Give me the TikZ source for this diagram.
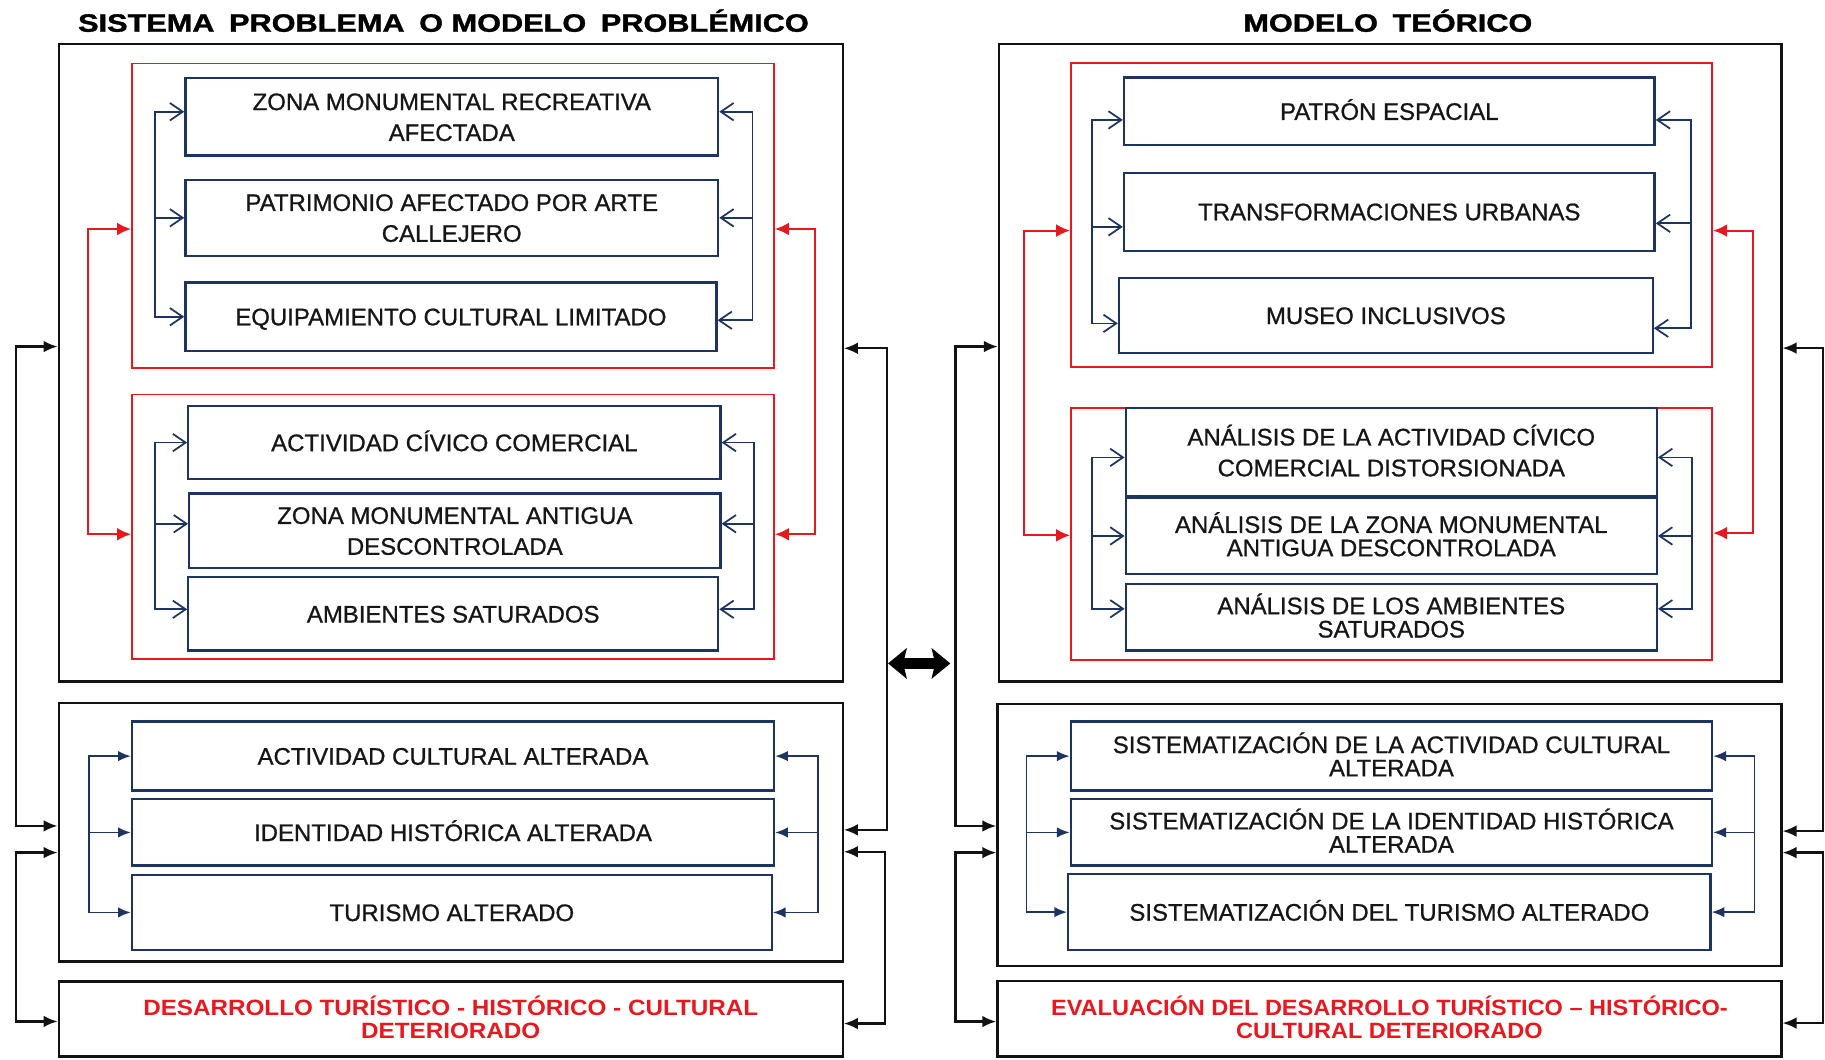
\documentclass[tikz,border=0pt]{standalone}
\usepackage{fontspec}
\setmainfont{Liberation Sans}
\newfontfamily\boxfont{Liberation Sans}[FakeBold=0.8]
\newfontfamily\headfont{Liberation Sans Bold}[FakeBold=1.2]
\usepackage{graphicx}
\usetikzlibrary{arrows.meta}
\definecolor{navyc}{RGB}{30,52,96}
\definecolor{redc}{RGB}{232,24,30}
\definecolor{txtc}{RGB}{22,22,22}
\definecolor{blk}{RGB}{18,18,18}
\newcommand\capln[1]{\raisebox{0pt}[14.75pt][0pt]{#1}}
\newcommand\redln[2]{\raisebox{0pt}[13.6pt][0pt]{\scalebox{#1}[1]{#2}}}
\newcommand\mkbox[7]{%
  \pgfmathsetmacro\bxcx{(#3+#5)/2}%
  \pgfmathsetmacro\bxcy{(#4+#6)/2}%
  \pgfmathsetmacro\bxw{#5-#3}%
  \pgfmathsetmacro\bxh{#6-#4}%
  \node[#1, minimum width=\bxw pt, minimum height=\bxh pt] (#2) at (\bxcx,\bxcy) {#7};}
\newcommand\mybrk[5]{%
  \draw[#1] (#2 |- #5) |- (#3);
  \draw[#1] (#2 |- #4) -- (#4);
  \draw[#1] (#2 |- #5) -- (#5);}
\newcommand\mytwo[4]{%
  \draw[#1] (#2 |- #4) |- (#3);
  \draw[#1] (#2 |- #4) -- (#4);}
\tikzset{
  outerbox/.style={draw=blk, line width=2pt, inner sep=0pt},
  redbox/.style={draw=redc, line width=1.6pt, inner sep=0pt},
  navbox/.style={draw=navyc, line width=2pt, inner sep=0pt, align=center, text=txtc,
     font=\boxfont\fontsize{20.6}{26.5}\selectfont},
  tight/.style={font=\boxfont\fontsize{20.6}{20}\selectfont},
  redtextbox/.style={draw=blk, line width=2pt, inner sep=0pt, align=center, text=redc,
     font=\bfseries\fontsize{19}{19.5}\selectfont},
  titletext/.style={font=\headfont\fontsize{21.6}{24}\selectfont, text=black, inner sep=0pt},
  navspine/.style={draw=navyc, line width=1.5pt, line cap=rect},
  navopen/.style={navspine, -{Straight Barb[length=11pt,width=15pt]}},
  navfill/.style={navspine, -{Latex[length=11pt,width=9pt]}},
  redarr/.style={draw=redc, line width=1.8pt, line cap=rect, -{Latex[length=12pt,width=11pt]}},
  blkarr/.style={draw=blk, line width=2pt, line cap=rect, -{Latex[length=12pt,width=10pt]}},
  bigdbl/.style={draw=black, line width=9pt,
     {Stealth[length=16pt,width=26pt,inset=3pt]}-{Stealth[length=16pt,width=26pt,inset=3pt]}}
}
\begin{document}
\begin{tikzpicture}[x=1pt,y=-1pt]
\useasboundingbox (0,0) rectangle (1568,910);
\fill[white] (0,0) rectangle (1568,910);

% ---------------- titles
\node[titletext] (tl) at (381,19.5) {\scalebox{1.22}[1]{\raisebox{0pt}[15.5pt][0pt]{SISTEMA\hspace{4.3pt} PROBLEMA\hspace{4.3pt} O MODELO\hspace{4.3pt} PROBLÉMICO}}};
\node[titletext] (tr) at (1192.4,19.5) {\scalebox{1.22}[1]{\raisebox{0pt}[15.5pt][0pt]{MODELO\hspace{4.3pt} TEÓRICO}}};

% ---------------- LEFT PANEL
\mkbox{outerbox}{O1}{50.5}{38}{724}{585.5}{}
\mkbox{redbox}{R1}{113.4}{54.5}{665}{316}{}
\mkbox{navbox}{b11}{159.3}{67.3}{617}{133.7}{\capln{ZONA MONUMENTAL RECREATIVA}\\\capln{AFECTADA}}
\mkbox{navbox}{b12}{159.3}{154.6}{617}{219.7}{\capln{PATRIMONIO AFECTADO POR ARTE}\\\capln{CALLEJERO}}
\mkbox{navbox}{b13}{159.3}{242.8}{615.5}{301.5}{\capln{EQUIPAMIENTO CULTURAL LIMITADO}}

\mkbox{redbox}{R2}{113.4}{339}{665}{566}{}
\mkbox{navbox}{b21}{161.8}{349}{619}{411.5}{\capln{ACTIVIDAD CÍVICO COMERCIAL}}
\mkbox{navbox}{b22}{162.6}{424}{619}{488}{\capln{ZONA MONUMENTAL ANTIGUA}\\\capln{DESCONTROLADA}}
\mkbox{navbox}{b23}{161.8}{496}{617}{559}{\capln{AMBIENTES SATURADOS}}

\mkbox{outerbox}{O2}{50.5}{604.2}{724}{826.2}{}
\mkbox{navbox}{b31}{113.4}{620}{665}{679.3}{\capln{ACTIVIDAD CULTURAL ALTERADA}}
\mkbox{navbox}{b32}{113.4}{686.7}{665}{743.7}{\capln{IDENTIDAD HISTÓRICA ALTERADA}}
\mkbox{navbox}{b33}{113.4}{751.7}{663}{816.2}{\capln{TURISMO ALTERADO}}

\mkbox{redtextbox}{O3}{50.5}{843.4}{724}{907.8}{\redln{1.096}{DESARROLLO TURÍSTICO - HISTÓRICO - CULTURAL}\\\redln{1.096}{DETERIORADO}}

% ---------------- RIGHT PANEL
\mkbox{outerbox}{P1}{858.3}{38}{1530.5}{585.5}{}
\mkbox{redbox}{Q1}{920.2}{54}{1471}{315}{}
\mkbox{navbox}{bP}{965.7}{66.7}{1421.6}{124.6}{\capln{PATRÓN ESPACIAL}}
\mkbox{navbox}{bT}{965.7}{148.4}{1421.6}{215.4}{\capln{TRANSFORMACIONES URBANAS}}
\mkbox{navbox}{bM}{961.4}{238.6}{1420}{303.5}{\capln{MUSEO INCLUSIVOS}}

\mkbox{redbox}{Q2}{920.2}{350.5}{1471}{567}{}
\mkbox{navbox}{bA1}{967.2}{350.5}{1423.5}{426.7}{\capln{ANÁLISIS DE LA ACTIVIDAD CÍVICO}\\\capln{COMERCIAL DISTORSIONADA}}
\mkbox{navbox,tight}{bA2}{967.2}{428}{1423.5}{493}{\capln{ANÁLISIS DE LA ZONA MONUMENTAL}\\\capln{ANTIGUA DESCONTROLADA}}
\mkbox{navbox,tight}{bA3}{967.2}{501.7}{1423.5}{559}{\capln{ANÁLISIS DE LOS AMBIENTES}\\\capln{SATURADOS}}

\mkbox{outerbox}{P2}{857}{604.8}{1530.5}{829.9}{}
\mkbox{navbox,tight}{bS1}{920}{620}{1471}{679.3}{\capln{SISTEMATIZACIÓN DE LA ACTIVIDAD CULTURAL}\\\capln{ALTERADA}}
\mkbox{navbox,tight}{bS2}{920}{686.7}{1471}{743.7}{\capln{SISTEMATIZACIÓN DE LA IDENTIDAD HISTÓRICA}\\\capln{ALTERADA}}
\mkbox{navbox}{bS3}{917.8}{751.1}{1469.6}{816.2}{\capln{SISTEMATIZACIÓN DEL TURISMO ALTERADO}}

\mkbox{redtextbox}{P3}{857}{842.8}{1530.5}{907.8}{\redln{1.064}{EVALUACIÓN DEL DESARROLLO TURÍSTICO – HISTÓRICO-}\\\redln{1.064}{CULTURAL DETERIORADO}}

% ---------------- spine coordinates
\coordinate (sA) at (133,0);
\coordinate (sB) at (646.5,0);
\coordinate (sC) at (133,0);
\coordinate (sD) at (647.5,0);
\coordinate (sE) at (76.4,0);
\coordinate (sF) at (702.8,0);
\coordinate (rsL) at (75.4,0);
\coordinate (rsR) at (700,0);
\coordinate (kL) at (14,0);
\coordinate (kRa) at (762,0);
\coordinate (kRb) at (760.3,0);

\coordinate (tA) at (938.4,0);
\coordinate (tB) at (1452.8,0);
\coordinate (tC) at (938.4,0);
\coordinate (tD) at (1453.8,0);
\coordinate (tE) at (881.9,0);
\coordinate (tF) at (1507.5,0);
\coordinate (qsL) at (879.7,0);
\coordinate (qsR) at (1506.5,0);
\coordinate (mL) at (821,0);
\coordinate (mR) at (1566,0);

% ---------------- shifted targets, left panel
\coordinate (t11L) at ([yshift=4.5pt]b11.west);
\coordinate (t11R) at ([yshift=4.5pt]b11.east);
\coordinate (t13R) at ([yshift=-3pt]b13.east);
\coordinate (t22L) at ([yshift=6pt]b22.west);
\coordinate (t22R) at ([yshift=6pt]b22.east);
\coordinate (t23L) at ([yshift=4pt]b23.west);
\coordinate (t23R) at ([yshift=4pt]b23.east);
\coordinate (rt1L) at ([yshift=-11.5pt]R1.west);
\coordinate (rt2L) at ([yshift=-6.5pt]R2.west);
\coordinate (rt1R) at ([yshift=-11.5pt]R1.east);
\coordinate (rt2R) at ([yshift=-6.5pt]R2.east);
\coordinate (k1L) at ([yshift=14pt]O1.west);
\coordinate (k2La) at ([yshift=5.6pt]O2.west);
\coordinate (k2Lb) at ([yshift=-17.3pt]O2.west);
\coordinate (k3L) at ([yshift=-2pt]O3.west);
\coordinate (k1R) at ([yshift=12.5pt]O1.east);
\coordinate (k2Ra) at ([yshift=2.2pt]O2.east);
\coordinate (k2Rb) at ([yshift=-16.6pt]O2.east);
\coordinate (k3R) at ([yshift=-3.8pt]O3.east);

% ---------------- shifted targets, right panel
\coordinate (uPL) at ([yshift=-7.4pt]bP.west);
\coordinate (uTL) at ([yshift=-13pt]bT.west);
\coordinate (uML) at ([yshift=-6.8pt]bM.west);
\coordinate (uPR) at ([yshift=-7.4pt]bP.east);
\coordinate (uTR) at ([yshift=-10pt]bT.east);
\coordinate (uMR) at ([yshift=-11pt]bM.east);
\coordinate (uA1L) at ([yshift=-4.4pt]bA1.west);
\coordinate (uA3L) at ([yshift=7.3pt]bA3.west);
\coordinate (uA1R) at ([yshift=-4.4pt]bA1.east);
\coordinate (uA3R) at ([yshift=7.3pt]bA3.east);
\coordinate (q1L) at ([yshift=-13.6pt]Q1.west);
\coordinate (q2L) at ([yshift=-1.2pt]Q2.west);
\coordinate (q1R) at ([yshift=-13.6pt]Q1.east);
\coordinate (q2R) at ([yshift=0.7pt]Q2.east);
\coordinate (m1L) at ([yshift=14pt]P1.west);
\coordinate (m2La) at ([yshift=7.7pt]P2.west);
\coordinate (m2Lb) at ([yshift=-15.2pt]P2.west);
\coordinate (m3L) at ([yshift=-2.4pt]P3.west);
\coordinate (m1R) at ([yshift=12.7pt]P1.east);
\coordinate (m2Ra) at ([yshift=3.3pt]P2.east);
\coordinate (m2Rb) at ([yshift=-15.2pt]P2.east);
\coordinate (m3R) at ([yshift=-3.7pt]P3.east);

% ---------------- connectors, left panel
\mybrk{navopen}{sA}{t11L}{b12.west}{b13.west}
\mybrk{navopen}{sB}{t11R}{b12.east}{t13R}
\mybrk{navopen}{sC}{b21.west}{t22L}{t23L}
\mybrk{navopen}{sD}{b21.east}{t22R}{t23R}
\mybrk{navfill}{sE}{b31.west}{b32.west}{b33.west}
\mybrk{navfill}{sF}{b31.east}{b32.east}{b33.east}
\mytwo{redarr}{rsL}{rt1L}{rt2L}
\mytwo{redarr}{rsR}{rt1R}{rt2R}
\mytwo{blkarr}{kL}{k1L}{k2La}
\mytwo{blkarr}{kL}{k2Lb}{k3L}
\mytwo{blkarr}{kRa}{k1R}{k2Ra}
\mytwo{blkarr}{kRb}{k2Rb}{k3R}

% ---------------- connectors, right panel
\mybrk{navopen}{tA}{uPL}{uTL}{uML}
\mybrk{navopen}{tB}{uPR}{uTR}{uMR}
\mybrk{navopen}{tC}{uA1L}{bA2.west}{uA3L}
\mybrk{navopen}{tD}{uA1R}{bA2.east}{uA3R}
\mybrk{navfill}{tE}{bS1.west}{bS2.west}{bS3.west}
\mybrk{navfill}{tF}{bS1.east}{bS2.east}{bS3.east}
\mytwo{redarr}{qsL}{q1L}{q2L}
\mytwo{redarr}{qsR}{q1R}{q2R}
\mytwo{blkarr}{mL}{m1L}{m2La}
\mytwo{blkarr}{mL}{m2Lb}{m3L}
\mytwo{blkarr}{mR}{m1R}{m2Ra}
\mytwo{blkarr}{mR}{m2Rb}{m3R}

% ---------------- central double arrow
\coordinate (dL) at (763,570);
\coordinate (dR) at (816.5,570);
\draw[bigdbl] (dL) -- (dR);
\end{tikzpicture}
\end{document}
